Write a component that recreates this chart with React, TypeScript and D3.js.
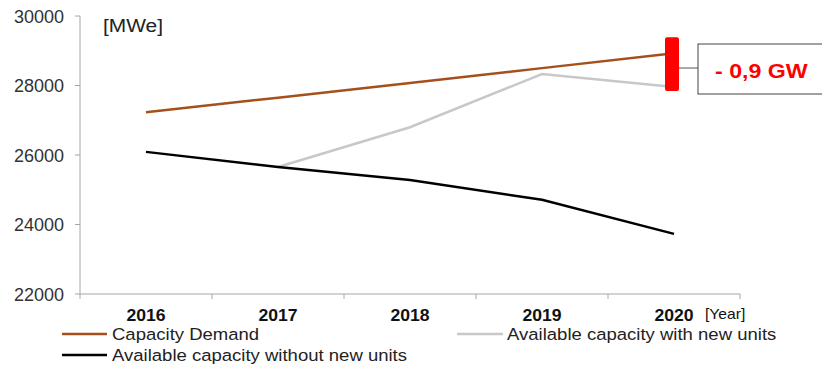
import React from "react";
import * as d3 from "d3";

const years = ["2016", "2017", "2018", "2019", "2020"];
const demand = [27230, 27650, 28070, 28500, 28930];
const withNew: (number | null)[] = [null, 25655, 26800, 28330, 27960];
const withoutNew = [26090, 25655, 25280, 24710, 23730];
const yTicks = [22000, 24000, 26000, 28000, 30000];
const gapLabel = "- 0,9 GW";

const W = 822, H = 365;
const left = 80, right = 740, top = 16, bottom = 294;

function T(props: {
  x: number; y: number; s?: number; size: number; weight?: string;
  fill?: string; anchor?: string; children: React.ReactNode;
}) {
  const { x, y, s = 1, size, weight, fill = "#222", anchor = "start", children } = props;
  return (
    <text transform={`translate(${x},${y}) scale(${s},1)`} fontSize={size} fontWeight={weight}
      fill={fill} textAnchor={anchor}>
      {children}
    </text>
  );
}

export default function App() {
  const x = d3.scaleBand<string>().domain(years).range([left, right]);
  const y = d3.scaleLinear().domain([22000, 30000]).range([bottom, top]);
  const cx = (yr: string) => (x(yr) as number) + x.bandwidth() / 2;
  const line = d3
    .line<number | null>()
    .defined((d) => d != null)
    .x((_, i) => cx(years[i]))
    .y((d) => y(d as number));
  const font = "'Liberation Sans', Arial, sans-serif";
  const last = years.length - 1;
  const barTop = y(demand[last]) - 16;
  const barBot = y(withNew[last] as number) + 4;
  const barX = cx(years[last]);
  const midY = (barTop + barBot) / 2 + 6;
  const bounds = [left, ...years.map((yr) => (x(yr) as number) + x.bandwidth())];
  return (
    <svg width={W} height={H} style={{ position: "absolute", left: 0, top: 0 }} fontFamily={font}>
      <rect width={W} height={H} fill="#fff" />
      {/* axes */}
      <line x1={left} x2={left} y1={top} y2={bottom} stroke="#a6a6a6" />
      <line x1={left} x2={right} y1={bottom} y2={bottom} stroke="#a6a6a6" />
      {yTicks.map((t) => (
        <g key={t}>
          <line x1={left - 5} x2={left} y1={y(t)} y2={y(t)} stroke="#a6a6a6" />
          <T x={64} y={y(t) + 6.5} anchor="end" size={18} fill="#333">{t}</T>
        </g>
      ))}
      {bounds.map((b, i) => (
        <line key={i} x1={b} x2={b} y1={bottom} y2={bottom + 5} stroke="#a6a6a6" />
      ))}
      {years.map((yr) => (
        <T key={yr} x={cx(yr)} y={bottom + 27} anchor="middle" size={16} s={1.1} weight="bold" fill="#111">
          {yr}
        </T>
      ))}
      <T x={705} y={bottom + 25} size={14} s={1.12} fill="#111">[Year]</T>
      <T x={103} y={32} size={19} s={1.1} fill="#222">[MWe]</T>
      {/* series */}
      <path d={line(withNew) as string} fill="none" stroke="#c8c8c8" strokeWidth={2.5} />
      <path d={line(demand) as string} fill="none" stroke="#a4501c" strokeWidth={2.5} />
      <path d={line(withoutNew) as string} fill="none" stroke="#000" strokeWidth={2.5} />
      {/* gap annotation */}
      <rect x={barX - 9} y={barTop} width={14} height={barBot - barTop} rx={2} fill="#ff0000" />
      <line x1={barX + 5} x2={698} y1={midY - 2} y2={midY - 2} stroke="#555" strokeWidth={1} />
      <rect x={698} y={44} width={130} height={50} fill="#fff" stroke="#444" strokeWidth={1} />
      <T x={715} y={78} size={20} s={1.16} weight="bold" fill="#ff0000">{gapLabel}</T>
      {/* legend */}
      <line x1={62} x2={107} y1={334} y2={334} stroke="#a4501c" strokeWidth={2.5} />
      <T x={112} y={340} size={17} s={1.09}>Capacity Demand</T>
      <line x1={457} x2={503} y1={334} y2={334} stroke="#c8c8c8" strokeWidth={2.5} />
      <T x={507} y={340} size={17} s={1.09}>Available capacity with new units</T>
      <line x1={62} x2={107} y1={355} y2={355} stroke="#000" strokeWidth={2.5} />
      <T x={112} y={361} size={17} s={1.09}>Available capacity without new units</T>
    </svg>
  );
}
